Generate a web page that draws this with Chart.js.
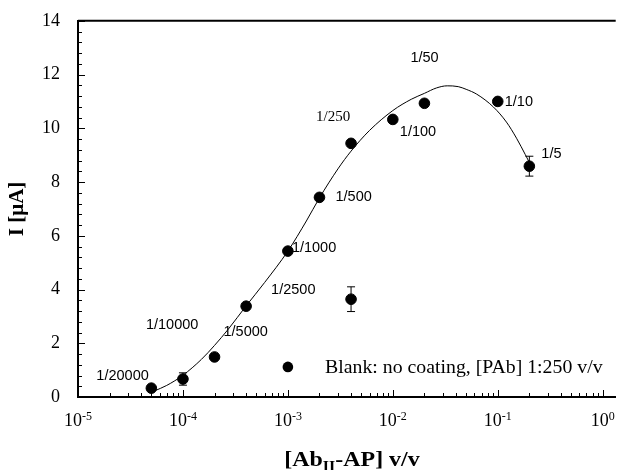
<!DOCTYPE html>
<html>
<head>
<meta charset="utf-8">
<script src="https://cdn.jsdelivr.net/npm/chart.js@4.4.1/dist/chart.umd.min.js"></script>
<style>
  html, body { margin: 0; padding: 0; background: #fff; }
  #wrap { width: 622px; height: 470px; }
</style>
</head>
<body>
<div id="wrap"><canvas id="chart" width="622" height="470"></canvas></div>
<script>
// measured points, [AbII-AP] dilution v/v vs current
const dilX = [5e-5, 1e-4, 2e-4, 4e-4, 1e-3, 2e-3, 4e-3, 1e-2, 2e-2, 1e-1, 2e-1];
const currentY = [0.33, 0.67, 1.49, 3.38, 5.43, 7.43, 9.44, 10.33, 10.93, 11.0, 8.59];
const currentErr = [0, 0.23, 0, 0, 0, 0, 0, 0, 0, 0, 0.37];
const dilLabels = ['1/20000', '1/10000', '1/5000', '1/2500', '1/1000', '1/500', '1/250', '1/100', '1/50', '1/10', '1/5'];

// blank: no coating
const blankX = [4e-3];
const blankY = [3.64];
const blankErr = [0.46];

// fitted curve
const fitX = [5.3e-5, 7e-5, 1e-4, 1.5e-4, 2e-4, 2.7e-4, 4e-4, 6e-4, 1e-3, 1.5e-3, 2e-3, 3e-3, 4e-3, 6e-3, 1e-2, 1.5e-2, 2e-2, 2.6e-2, 3.3e-2, 4.2e-2, 5e-2, 6.3e-2, 9.1e-2, 1.21e-1, 1.51e-1, 1.83e-1, 2e-1];
const fitY = [0.22, 0.43, 0.81, 1.40, 1.92, 2.52, 3.39, 4.26, 5.43, 6.55, 7.41, 8.49, 9.15, 9.92, 10.66, 11.08, 11.30, 11.50, 11.58, 11.55, 11.45, 11.27, 10.79, 10.23, 9.63, 9.02, 8.73];

const xDecades = [-5, -4, -3, -2, -1, 0];
const yTicks = [0, 2, 4, 6, 8, 10, 12, 14];

// label offsets from each point (px), left aligned
const labelOffsets = [[-55, -12], [-37, -54], [9, -25], [25, -16], [4, -3], [16, 0], [-35, -26], [7, 13], [-14, -45], [7, 1], [12, -12]];

const serif = '"Liberation Serif", "Times New Roman", serif';
const sans = '"Liberation Sans", Arial, sans-serif';

const toXY = (xs, ys) => xs.map((x, i) => ({ x: x, y: ys[i] }));

// the reference text runs a bit wide, so stretch it horizontally
function wideText(ctx, text, x, y, sx) {
    ctx.save();
    ctx.translate(x, y);
    ctx.scale(sx, 1);
    ctx.fillText(text, 0, 0);
    ctx.restore();
}

const extras = {
    id: 'extras',
    afterDatasetsDraw(chart) {
        const ctx = chart.ctx;
        const xs = chart.scales.x, ys = chart.scales.y;
        ctx.save();
        ctx.strokeStyle = '#000';
        ctx.lineWidth = 1;
        const bars = (xv, yv, ev) => {
            xv.forEach((x, i) => {
                if (!ev[i]) return;
                const px = xs.getPixelForValue(x);
                const top = ys.getPixelForValue(yv[i] + ev[i]);
                const bot = ys.getPixelForValue(yv[i] - ev[i]);
                ctx.beginPath();
                ctx.moveTo(px, top); ctx.lineTo(px, bot);
                ctx.moveTo(px - 4, top); ctx.lineTo(px + 4, top);
                ctx.moveTo(px - 4, bot); ctx.lineTo(px + 4, bot);
                ctx.stroke();
            });
        };
        bars(dilX, currentY, currentErr);
        bars(blankX, blankY, blankErr);

        // point labels
        ctx.fillStyle = '#000';
        ctx.textBaseline = 'middle';
        ctx.textAlign = 'left';
        dilX.forEach((x, i) => {
            const px = xs.getPixelForValue(x);
            const py = ys.getPixelForValue(currentY[i]);
            ctx.font = dilLabels[i] === '1/250' ? '15px ' + serif : '14.5px ' + sans;
            ctx.fillText(dilLabels[i], px + labelOffsets[i][0], py + labelOffsets[i][1]);
        });
        ctx.restore();
    },
    afterDraw(chart) {
        const ctx = chart.ctx;
        const a = chart.chartArea;
        const xs = chart.scales.x, ys = chart.scales.y;
        ctx.save();
        ctx.strokeStyle = '#000';
        ctx.fillStyle = '#000';

        // top frame line
        ctx.lineWidth = 2;
        ctx.beginPath();
        ctx.moveTo(a.left, a.top); ctx.lineTo(a.right, a.top);
        ctx.stroke();

        // inward ticks
        ctx.lineWidth = 1;
        ctx.beginPath();
        xDecades.forEach(d => {
            for (let m = 1; m <= 9; m++) {
                const v = m * Math.pow(10, d);
                if (v > xs.max) break;
                const px = Math.round(xs.getPixelForValue(v)) + 0.5;
                const len = m === 1 ? 7 : 4;
                ctx.moveTo(px, a.bottom); ctx.lineTo(px, a.bottom - len);
            }
        });
        for (let v = 0; v <= 14.001; v += 0.4) {
            const py = Math.round(ys.getPixelForValue(v)) + 0.5;
            const major = Math.abs(v / 2 - Math.round(v / 2)) < 0.01;
            ctx.moveTo(a.left, py); ctx.lineTo(a.left + (major ? 7 : 4), py);
        }
        ctx.stroke();

        // x tick labels 10^n
        xDecades.forEach(d => {
            const px = xs.getPixelForValue(Math.pow(10, d));
            ctx.font = '18px ' + serif;
            const w1 = ctx.measureText('10').width;
            ctx.font = '12px ' + serif;
            const sup = String(d);
            const w2 = ctx.measureText(sup).width;
            const left = px - (w1 + w2) / 2;
            ctx.textAlign = 'left';
            ctx.textBaseline = 'alphabetic';
            ctx.font = '18px ' + serif;
            ctx.fillText('10', left, 426);
            ctx.font = '12px ' + serif;
            ctx.fillText(sup, left + w1, 420);
        });

        // x axis title with subscript
        const sx = 1.14;
        ctx.font = 'bold 21px ' + serif;
        const t1 = '[Ab', t2 = 'II', t3 = '-AP] v/v';
        const w1 = ctx.measureText(t1).width * sx;
        const w3 = ctx.measureText(t3).width * sx;
        ctx.font = 'bold 14px ' + serif;
        const w2 = ctx.measureText(t2).width * sx;
        const tx = 352 - (w1 + w2 + w3) / 2;
        ctx.textAlign = 'left';
        ctx.font = 'bold 21px ' + serif;
        wideText(ctx, t1, tx, 466, sx);
        ctx.font = 'bold 14px ' + serif;
        wideText(ctx, t2, tx + w1, 471, sx);
        ctx.font = 'bold 21px ' + serif;
        wideText(ctx, t3, tx + w1 + w2, 466, sx);

        ctx.save();
        ctx.translate(18, (a.top + a.bottom) / 2);
        ctx.rotate(-Math.PI / 2);
        ctx.textAlign = 'center';
        ctx.textBaseline = 'middle';
        ctx.font = 'bold 21px ' + serif;
        ctx.fillText('I [\u03bcA]', 0, 0);
        ctx.restore();

        // legend
        const lx = xs.getPixelForValue(1e-3);
        const ly = ys.getPixelForValue(1.12);
        ctx.beginPath();
        ctx.arc(lx, ly, 5.3, 0, Math.PI * 2);
        ctx.fill();
        ctx.font = '18px ' + serif;
        ctx.textBaseline = 'middle';
        wideText(ctx, 'Blank: no coating, [PAb] 1:250 v/v', 325, ly + 1, 1.1);
        ctx.restore();
    }
};

new Chart(document.getElementById('chart').getContext('2d'), {
    type: 'scatter',
    data: {
        datasets: [
            {
                label: 'fit',
                data: toXY(fitX, fitY),
                showLine: true,
                borderColor: '#000',
                borderWidth: 1,
                pointRadius: 0,
                cubicInterpolationMode: 'monotone',
                fill: false
            },
            {
                label: 'AbII-AP',
                data: toXY(dilX, currentY),
                backgroundColor: '#000',
                borderColor: '#000',
                pointRadius: 5.3,
                pointHoverRadius: 5.3
            },
            {
                label: 'Blank',
                data: toXY(blankX, blankY),
                backgroundColor: '#000',
                borderColor: '#000',
                pointRadius: 5.3,
                pointHoverRadius: 5.3
            }
        ]
    },
    options: {
        responsive: false,
        animation: false,
        layout: { padding: { top: 20, right: 2, left: 0, bottom: 0 } },
        plugins: {
            legend: { display: false },
            tooltip: { enabled: false }
        },
        scales: {
            x: {
                type: 'logarithmic',
                min: 1e-5,
                max: 1.33,
                grid: { display: false },
                border: { display: true, color: '#000', width: 2 },
                ticks: { display: false },
                afterFit(scale) { scale.height = 73; }
            },
            y: {
                min: 0,
                max: 14,
                afterBuildTicks(scale) { scale.ticks = yTicks.map(v => ({ value: v })); },
                grid: { display: false },
                border: { display: true, color: '#000', width: 2 },
                ticks: {
                    color: '#000',
                    padding: 10,
                    font: { family: serif, size: 18 }
                },
                afterFit(scale) { scale.width = 78; }
            }
        }
    },
    plugins: [extras]
});
</script>
</body>
</html>
